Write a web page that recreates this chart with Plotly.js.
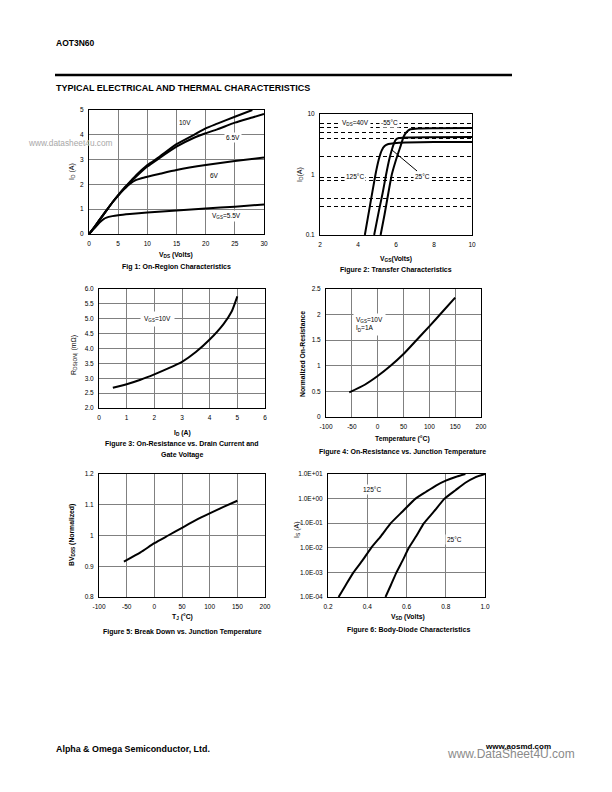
<!DOCTYPE html>
<html>
<head>
<meta charset="utf-8">
<script src="https://cdn.plot.ly/plotly-3.0.1.min.js"></script>
<style>html,body{margin:0;padding:0;background:#fff;}#chart{width:612px;height:792px;}</style>
</head>
<body>
<div id="chart"></div>
<script>
// ---------- DATA ----------
// Fig 1: On-region characteristics (VDS in V, ID in A)
const fig1_vds_10V  = [0,1,2,3,4,5,6,7,8,10,12,15,18,20,22,25,28];
const fig1_id_10V   = [0,0.3,0.63,0.95,1.27,1.57,1.85,2.1,2.35,2.78,3.1,3.62,4.0,4.26,4.45,4.73,5.0];
const fig1_vds_6p5V = [0,1,2,3,4,5,6,7,8,10,12,15,18,20,22,25,28,30];
const fig1_id_6p5V  = [0,0.3,0.63,0.95,1.27,1.56,1.83,2.07,2.3,2.72,3.05,3.52,3.88,4.06,4.22,4.49,4.7,4.84];
const fig1_vds_6V   = [0,1,2,3,4,5,6,7,8,9,10,12,15,20,25,30];
const fig1_id_6V    = [0,0.3,0.63,0.95,1.27,1.55,1.8,2.02,2.17,2.25,2.31,2.42,2.58,2.78,2.94,3.09];
const fig1_vds_5p5V = [0,0.5,1,1.5,2,2.5,3,4,5,7,10,15,20,25,30];
const fig1_id_5p5V  = [0,0.12,0.25,0.38,0.5,0.6,0.66,0.72,0.76,0.81,0.87,0.95,1.03,1.1,1.19];
const fig1_labels   = ["10V","6.5V","6V","V<sub>GS</sub>=5.5V"];

// Fig 2: Transfer characteristics (VGS in V, ID in A)
const fig2_vgs_m55 = [5.19,5.4,5.6,5.78,6.06,6.25,6.4,6.55,6.75,7.2,8,10];
const fig2_id_m55  = [0.1,0.22,0.5,1.0,2.0,3.0,4.2,5.0,5.6,5.78,5.83,5.85];
const fig2_vgs_25  = [4.85,5.1,5.3,5.48,5.65,5.77,5.9,6.0,6.15,6.5,8,10];
const fig2_id_25   = [0.1,0.25,0.5,1.0,1.8,2.5,3.3,3.8,4.0,4.08,4.12,4.15];
const fig2_vgs_125 = [4.36,4.6,4.92,5.1,5.25,5.4,5.6,5.9,6.5,8,10];
const fig2_id_125  = [0.1,0.27,1.0,1.8,2.5,2.95,3.2,3.3,3.38,3.43,3.45];
const fig2_dashLevels = [0.3,0.4,0.8,0.9,2,4,5,6,7];
const fig2_yTicks  = [0.1,1,10];

// Fig 3: On-resistance vs drain current
const fig3_id   = [0.5,1,1.5,2,2.5,3,3.5,4,4.5,4.8,5];
const fig3_rds  = [2.68,2.8,2.95,3.13,3.33,3.55,3.88,4.3,4.82,5.25,5.75];

// Fig 4: Normalized on-resistance vs junction temperature
const fig4_temp = [-55,-25,0,25,50,75,100,125,150];
const fig4_rn   = [0.48,0.63,0.8,1.0,1.23,1.5,1.77,2.05,2.33];

// Fig 5: Breakdown vs junction temperature
const fig5_temp = [-55,-25,0,25,50,75,100,125,150];
const fig5_bv   = [0.915,0.945,0.975,1.0,1.025,1.05,1.072,1.093,1.113];

// Fig 6: Body-diode characteristics (VSD in V, IS in A)
const fig6_vsd_125 = [0.254,0.29,0.33,0.375,0.42,0.47,0.52,0.58,0.646,0.7,0.75,0.8,0.85,0.9];
const fig6_is_125  = [1e-4,3e-4,1e-3,3e-3,1e-2,3e-2,1e-1,0.3,1,1.9,3.4,5.4,7.6,10];
const fig6_vsd_25  = [0.493,0.52,0.549,0.58,0.612,0.65,0.689,0.74,0.794,0.85,0.9,0.95,1.0];
const fig6_is_25   = [1e-4,3e-4,1e-3,3e-3,1e-2,3e-2,1e-1,0.3,1,2.2,4.4,7.3,10];
const fig6_yTicks  = [1e-4,1e-3,1e-2,1e-1,1,10];
const fig6_yTickText = ["1.0E-04","1.0E-03","1.0E-02","1.0E-01","1.0E+00","1.0E+01"];

const tempTicks = [-100,-50,0,50,100,150,200];

// ---------- LAYOUT HELPERS ----------
const W = 612, H = 792;
const px = x => x / W;
const py = y => 1 - y / H;
const FONT = "Liberation Sans, Arial, Helvetica, sans-serif";

function dom(l, r, t, b) { return {x: [px(l), px(r)], y: [py(b), py(t)]}; }
const boxes = {
  1: dom(89, 264, 110, 234),
  2: dom(320, 472, 114, 235),
  3: dom(99, 265, 289, 408),
  4: dom(326, 481, 289, 417),
  5: dom(99, 265, 474, 597),
  6: dom(328, 485, 474, 597)
};

function ax(extra) {
  return Object.assign({
    showline: true, mirror: true, linecolor: "#000", linewidth: 1,
    showgrid: true, gridcolor: "#808080", gridwidth: 1,
    zeroline: false, ticks: "", ticklabelstandoff: 3,
    tickfont: {family: FONT, size: 6.5, color: "#000"},
    fixedrange: true
  }, extra);
}

function line(x, y, xa, ya) {
  return {x: x, y: y, xaxis: xa, yaxis: ya, type: "scatter", mode: "lines",
          line: {color: "#000", width: 2, shape: "spline", smoothing: 0.5},
          hoverinfo: "skip", showlegend: false};
}

const traces = [
  line(fig1_vds_10V, fig1_id_10V, "x", "y"),
  line(fig1_vds_6p5V, fig1_id_6p5V, "x", "y"),
  line(fig1_vds_6V, fig1_id_6V, "x", "y"),
  line(fig1_vds_5p5V, fig1_id_5p5V, "x", "y"),
  line(fig2_vgs_m55, fig2_id_m55, "x2", "y2"),
  line(fig2_vgs_25, fig2_id_25, "x2", "y2"),
  line(fig2_vgs_125, fig2_id_125, "x2", "y2"),
  line(fig3_id, fig3_rds, "x3", "y3"),
  line(fig4_temp, fig4_rn, "x4", "y4"),
  line(fig5_temp, fig5_bv, "x5", "y5"),
  line(fig6_vsd_125, fig6_is_125, "x6", "y6"),
  line(fig6_vsd_25, fig6_is_25, "x6", "y6")
];

function txt(text, x, y, o) {
  o = o || {};
  return {
    text: text, xref: "paper", yref: "paper", x: px(x), y: py(y),
    showarrow: false, xanchor: o.xanchor || "center", yanchor: "middle",
    textangle: o.angle || 0, align: o.align || "center",
    bgcolor: o.bg || "rgba(0,0,0,0)", borderpad: o.pad == null ? 1 : o.pad,
    font: {family: FONT, size: o.size || 6.5, color: o.color || "#000",
           weight: o.bold ? "bold" : "normal"}
  };
}

const annotations = [
  // page
  txt("AOT3N60", 54, 43, {xanchor: "left", size: 8.5, bold: true}),
  txt("TYPICAL ELECTRICAL AND THERMAL CHARACTERISTICS", 54, 88, {xanchor: "left", size: 9, bold: true}),
  txt("Alpha &amp; Omega Semiconductor, Ltd.", 54, 749, {xanchor: "left", size: 8.9, bold: true}),
  txt("www.aosmd.com", 483, 746, {xanchor: "left", size: 8, bold: true}),
  txt("www.DataSheet4U.com", 445, 754, {xanchor: "left", size: 12, color: "#8a8a8a"}),
  txt("www.datasheet4u.com", 26, 143, {xanchor: "left", size: 8.3, color: "#a8a8a8"}),

  // fig 1
  txt(fig1_labels[0], 185, 123, {bg: "#fff"}),
  txt(fig1_labels[1], 233, 137, {bg: "#fff"}),
  txt(fig1_labels[2], 214, 175, {bg: "#fff"}),
  txt(fig1_labels[3], 226, 216, {bg: "#fff"}),
  txt("I<sub>D</sub> (A)", 72, 172, {angle: -90, size: 7}),
  txt("V<sub>DS</sub> (Volts)", 176, 255, {size: 6.8, bold: true}),
  txt("Fig 1: On-Region Characteristics", 176, 267, {size: 7, bold: true}),

  // fig 2
  txt("V<sub>DS</sub>=40V", 355, 123, {bg: "#fff"}),
  txt("-55°C", 389, 123, {bg: "#fff"}),
  txt("125°C", 355, 176, {bg: "#fff"}),
  {text: "25°C", xref: "paper", yref: "paper", x: px(392), y: py(150),
   ax: 31, ay: 26, showarrow: true, arrowhead: 0, arrowwidth: 1, arrowcolor: "#000",
   bgcolor: "#fff", borderpad: 1, font: {family: FONT, size: 6.5, color: "#000"}},
  txt("I<sub>D</sub>(A)", 300, 175, {angle: -90, size: 7}),
  txt("V<sub>GS</sub>(Volts)", 396, 259, {size: 6.8, bold: true}),
  txt("Figure 2: Transfer Characteristics", 396, 270, {size: 7, bold: true}),

  // fig 3
  txt("V<sub>GS</sub>=10V", 157, 319, {bg: "#fff", pad: 3}),
  txt("R<sub>DS(ON)</sub> (mΩ)", 74, 355, {angle: -90, size: 7}),
  txt("I<sub>D</sub> (A)", 182, 433, {size: 6.8, bold: true}),
  txt("Figure 3: On-Resistance vs. Drain Current and", 182, 444, {size: 7, bold: true}),
  txt("Gate Voltage", 182, 455, {size: 7, bold: true}),

  // fig 4
  txt("V<sub>GS</sub>=10V<br>I<sub>D</sub>=1A", 353, 324, {xanchor: "left", align: "left", bg: "#fff", pad: 2}),
  txt("Normalized On-Resistance", 302, 354, {angle: -90, size: 6.8, bold: true}),
  txt("Temperature (°C)", 402, 439, {size: 6.8, bold: true}),
  txt("Figure 4: On-Resistance vs. Junction Temperature", 402, 452, {size: 7, bold: true}),

  // fig 5
  txt("BV<sub>DSS</sub> (Normalized)", 72, 535, {angle: -90, size: 6.8, bold: true}),
  txt("T<sub>J</sub> (°C)", 182, 617, {size: 6.8, bold: true}),
  txt("Figure 5: Break Down vs. Junction Temperature", 182, 632, {size: 7, bold: true}),

  // fig 6
  txt("125°C", 372, 489, {bg: "#fff"}),
  txt("25°C", 454, 539, {bg: "#fff"}),
  txt("I<sub>S</sub> (A)", 297, 530, {angle: -90, size: 7}),
  txt("V<sub>SD</sub> (Volts)", 408, 617, {size: 6.8, bold: true}),
  txt("Figure 6: Body-Diode Characteristics", 408, 630, {size: 7, bold: true})
];

const layout = {
  width: W, height: H,
  margin: {l: 0, r: 0, t: 0, b: 0},
  paper_bgcolor: "#fff", plot_bgcolor: "#fff",
  font: {family: FONT, color: "#000"},
  showlegend: false,
  xaxis:  ax({domain: boxes[1].x, anchor: "y",  range: [0, 30], dtick: 5, tick0: 0}),
  yaxis:  ax({domain: boxes[1].y, anchor: "x",  range: [0, 5], dtick: 1, tick0: 0}),
  xaxis2: ax({domain: boxes[2].x, anchor: "y2", range: [2, 10], dtick: 2, tick0: 0, showgrid: false}),
  yaxis2: ax({domain: boxes[2].y, anchor: "x2", type: "log", range: [-1, 1],
              tickmode: "array", tickvals: fig2_yTicks, ticktext: fig2_yTicks.map(String),
              showgrid: false,
              minor: {tickmode: "array", tickvals: fig2_dashLevels, showgrid: true,
                      gridcolor: "#000", gridwidth: 1, griddash: "4px,3px", ticks: ""}}),
  xaxis3: ax({domain: boxes[3].x, anchor: "y3", range: [0, 6], dtick: 1, tick0: 0}),
  yaxis3: ax({domain: boxes[3].y, anchor: "x3", range: [2, 6], dtick: 0.5, tick0: 0, tickformat: ".1f"}),
  xaxis4: ax({domain: boxes[4].x, anchor: "y4", range: [-100, 200], tickmode: "array",
              tickvals: tempTicks, ticktext: tempTicks.map(String)}),
  yaxis4: ax({domain: boxes[4].y, anchor: "x4", range: [0, 2.5], dtick: 0.5, tick0: 0}),
  xaxis5: ax({domain: boxes[5].x, anchor: "y5", range: [-100, 200], tickmode: "array",
              tickvals: tempTicks, ticktext: tempTicks.map(String)}),
  yaxis5: ax({domain: boxes[5].y, anchor: "x5", range: [0.8, 1.2], dtick: 0.1, tick0: 0}),
  xaxis6: ax({domain: boxes[6].x, anchor: "y6", range: [0.2, 1.0], dtick: 0.2, tick0: 0, tickformat: ".1f"}),
  yaxis6: ax({domain: boxes[6].y, anchor: "x6", type: "log", range: [-4, 1],
              tickmode: "array", tickvals: fig6_yTicks, ticktext: fig6_yTickText}),
  shapes: [
    {type: "line", xref: "paper", yref: "paper", x0: px(55), x1: px(512), y0: py(75), y1: py(75),
     line: {color: "#000", width: 2.5}}
  ],
  annotations: annotations
};

Plotly.newPlot("chart", traces, layout, {staticPlot: true, displayModeBar: false});
</script>
</body>
</html>
